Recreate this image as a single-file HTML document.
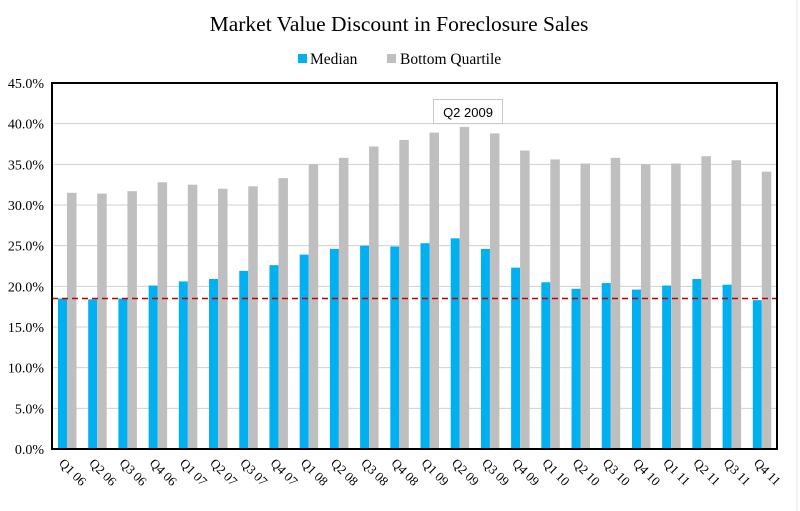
<!DOCTYPE html>
<html><head><meta charset="utf-8"><style>
html,body{margin:0;padding:0;background:#fff;}
svg{display:block;}
</style></head><body>
<svg id="c" width="800" height="511" xmlns="http://www.w3.org/2000/svg" font-family="Liberation Serif, serif"></svg>
<script>
var med=[18.5,18.4,18.5,20.1,20.6,20.9,21.9,22.6,23.9,24.6,25.0,24.9,25.3,25.9,24.6,22.3,20.5,19.7,20.4,19.6,20.1,20.9,20.2,18.3];
var bq=[31.5,31.4,31.7,32.8,32.5,32.0,32.3,33.3,35.0,35.8,37.2,38.0,38.9,39.6,38.8,36.7,35.6,35.1,35.8,35.0,35.1,36.0,35.5,34.1];
var labs=[];for(var y=6;y<=11;y++)for(var q=1;q<=4;q++)labs.push('Q'+q+' '+(y<10?'0'+y:y));
var L=52,R=777,T=83,B=449,s=(B-T)/45,w=(R-L)/24;
var h='<rect width="800" height="511" fill="#fff"/>';
h+='<line x1="797" y1="0" x2="797" y2="511" stroke="#e4e4e4"/>';
h+='<text x="399" y="31" text-anchor="middle" font-size="21.5">Market Value Discount in Foreclosure Sales</text>';
h+='<rect x="298" y="54" width="9" height="9" fill="#00b0f0"/><text x="310" y="64" font-size="15.5">Median</text>';
h+='<rect x="387" y="54" width="9" height="9" fill="#bfbfbf"/><text x="400" y="64" font-size="15.5">Bottom Quartile</text>';
for(var i=0;i<=9;i++){var y=B-i*5*s;
 if(i>0&&i<9)h+='<line x1="'+L+'" y1="'+y+'" x2="'+R+'" y2="'+y+'" stroke="#d0d0d0" stroke-width="1"/>';
 h+='<text x="44" y="'+(y+5)+'" text-anchor="end" font-size="14">'+(i*5).toFixed(1)+'%</text>';}
for(var i=0;i<24;i++){var x=L+i*w;
 h+='<rect x="'+(x+6)+'" y="'+(B-med[i]*s)+'" width="9" height="'+(med[i]*s)+'" fill="#00b0f0"/>';
 h+='<rect x="'+(x+15)+'" y="'+(B-bq[i]*s)+'" width="9.5" height="'+(bq[i]*s)+'" fill="#bfbfbf"/>';
 var cx=x+w/2-6,cy=B+12;
 h+='<text x="'+cx+'" y="'+cy+'" font-size="13" transform="rotate(45 '+cx+' '+cy+')" dy="4">'+labs[i]+'</text>';}
var dy=B-18.5*s;
h+='<line x1="'+L+'" y1="'+dy+'" x2="'+R+'" y2="'+dy+'" stroke="#c00000" stroke-width="1.5" stroke-dasharray="6,4"/>';
h+='<rect x="'+L+'" y="'+T+'" width="'+(R-L)+'" height="'+(B-T)+'" fill="none" stroke="#000" stroke-width="2"/>';
h+='<rect x="433.5" y="99.5" width="69" height="24" fill="#fff" stroke="#c8c8c8"/>';
h+='<text x="468" y="117" text-anchor="middle" font-size="13" font-family="Liberation Sans, sans-serif">Q2 2009</text>';
document.getElementById('c').innerHTML=h;
</script>
</body></html>
